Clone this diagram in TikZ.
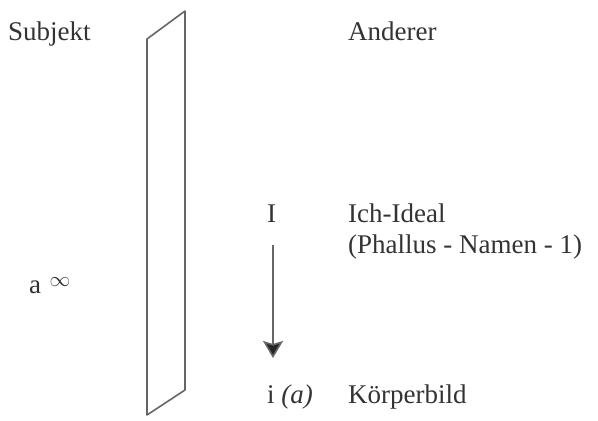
\documentclass[tikz,border=0pt]{standalone}
\usepackage{fontspec}
\setmainfont{Liberation Serif}
\usetikzlibrary{arrows.meta}
\tikzset{
  lbl/.style={anchor=base west, inner sep=0pt, text=black!80,
              font=\fontsize{27}{32}\selectfont},
  mirror/.style={draw=black!60, line width=1.6pt, line join=round},
  down/.style={draw=black!60, line width=1.6pt,
               -{Stealth[width=20pt,length=17pt,inset=3pt,fill=black!85]}}
}
\begin{document}
\begin{tikzpicture}[x=1pt,y=-1pt]
  \useasboundingbox (0,0) rectangle (598,421);
  % the mirror plane, seen slanted
  \draw[mirror] (147,39) -- (185,11) -- (185,390) -- (147,415) -- cycle;
  % left side
  \node[lbl] (subj) at (8,40) {Subjekt};
  \node[lbl] (aa) at (29,293) {a};
  \node[inner sep=0pt, text=black!80, font=\fontsize{22}{24}\selectfont]
       (inf) at (60,282) {$\infty$};
  % right side
  \node[lbl] (and) at (348,40) {Anderer};
  \node[lbl] (I) at (267,222) {I};
  \node[lbl] (ideal) at (348,222) {Ich-Ideal};
  \node[lbl] (phal) at (348,253) {(Phallus - Namen - 1)};
  \node[lbl] (ia) at (267,403) {i \textit{(a)}};
  \node[lbl] (koerp) at (348,403) {Körperbild};
  % from the ideal down to the body image
  \coordinate (arrS) at (273,245);
  \coordinate (arrE) at (273,358);
  \draw[down] (arrS) -- (arrE);
\end{tikzpicture}
\end{document}
